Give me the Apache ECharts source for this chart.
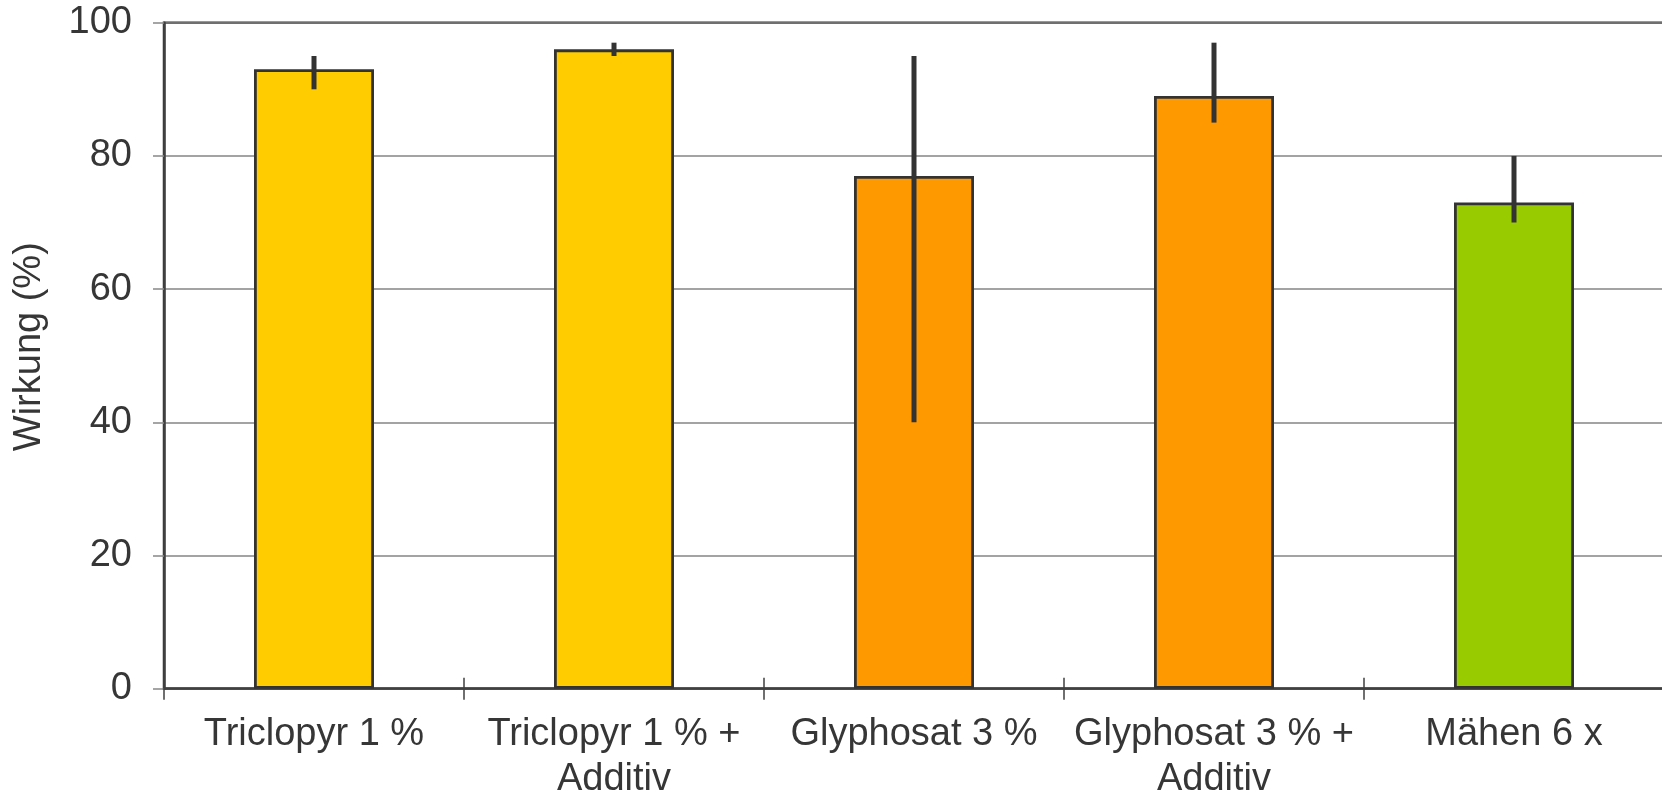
<!DOCTYPE html>
<html>
<head>
<meta charset="utf-8">
<script src="https://cdn.jsdelivr.net/npm/echarts@6/dist/echarts.min.js"></script>
<style>
html,body{margin:0;padding:0;background:#fff;}
#chart{width:1662px;height:792px;}
</style>
</head>
<body>
<div id="chart"></div>
<script>
const categories = ['Triclopyr 1 %', 'Triclopyr 1 % +\nAdditiv', 'Glyphosat 3 %', 'Glyphosat 3 % +\nAdditiv', 'Mähen 6 x'];
const values = [93, 96, 77, 89, 73];
const errLow = [90, 95, 40, 85, 70];
const errHigh = [95, 97, 95, 97, 80];
const barColors = ['#FFCC00', '#FFCC00', '#FF9900', '#FF9900', '#99CC00'];
const yTicks = [0, 20, 40, 60, 80, 100];

const chart = echarts.init(document.getElementById('chart'), null, {renderer: 'canvas'});
const font = 'Liberation Sans, Arial, sans-serif';
const textColor = '#363636';

const option = {
  animation: false,
  backgroundColor: '#ffffff',
  grid: {
    left: 164, right: -2, top: 22.7, bottom: 103.3,
    containLabel: false,
    outerBoundsMode: 'none',
    show: true, borderColor: '#333333', borderWidth: 2.5, backgroundColor: 'transparent'
  },
  xAxis: [{
    type: 'category',
    data: categories,
    axisLine: {show: true, lineStyle: {color: '#404040', width: 2.5}},
    axisTick: {show: true, alignWithLabel: false, length: 11, lineStyle: {color: '#404040', width: 1.5}},
    axisLabel: {color: textColor, fontFamily: font, fontSize: 38, lineHeight: 45, margin: 23, interval: 0},
    splitLine: {show: false}
  }, {
    type: 'category',
    data: categories,
    position: 'bottom',
    axisLine: {show: false},
    axisTick: {show: true, inside: true, length: 11, lineStyle: {color: '#404040', width: 1.5}},
    axisLabel: {show: false},
    splitLine: {show: false}
  }],
  yAxis: {
    type: 'value',
    min: yTicks[0], max: yTicks[yTicks.length - 1], interval: 20,
    name: 'Wirkung (%)',
    nameLocation: 'middle',
    nameRotate: 90,
    nameGap: 115,
    nameTextStyle: {color: textColor, fontFamily: font, fontSize: 38, padding: [0, 0, 0, 18]},
    axisLine: {show: true, lineStyle: {color: '#404040', width: 2.5}},
    axisTick: {show: true, length: 11, lineStyle: {color: '#888888', width: 1.5}},
    axisLabel: {color: textColor, fontFamily: font, fontSize: 38, margin: 32},
    splitLine: {show: true, lineStyle: {color: '#858585', width: 1.5}}
  },
  series: [{
    type: 'bar',
    data: values.map((v, i) => ({value: v, itemStyle: {color: barColors[i]}})),
    barWidth: '40%',
    itemStyle: {borderColor: '#333333', borderWidth: 2.8},
    z: 2
  }, {
    type: 'custom',
    data: categories.map((c, i) => [i, errLow[i], errHigh[i]]),
    renderItem: function (params, api) {
      const lo = api.coord([api.value(0), api.value(1)]);
      const hi = api.coord([api.value(0), api.value(2)]);
      return {
        type: 'line',
        shape: {x1: lo[0], y1: lo[1], x2: hi[0], y2: hi[1]},
        style: {stroke: '#333333', lineWidth: 5}
      };
    },
    z: 5
  }]
};
chart.setOption(option);
</script>
</body>
</html>
